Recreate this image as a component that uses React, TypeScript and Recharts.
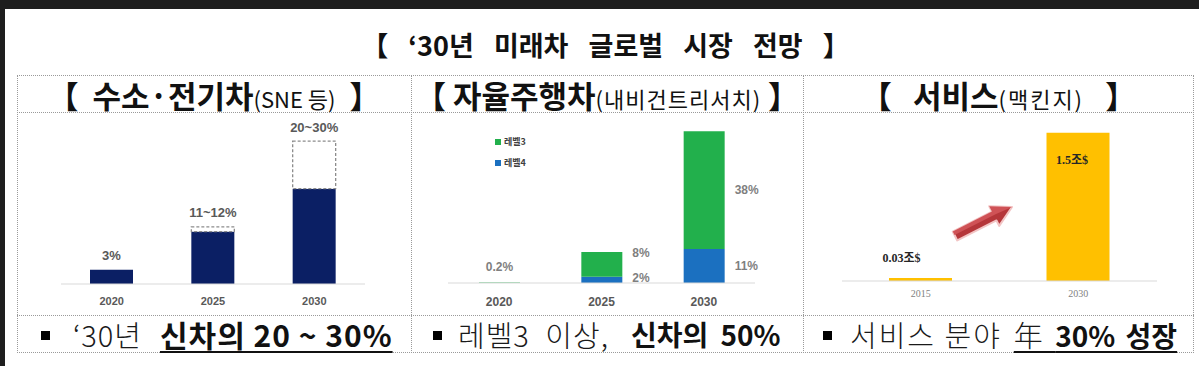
import React from 'react';
import { BarChart, Bar, XAxis, YAxis, LabelList, Legend } from 'recharts';

// ---- Panel 1: 수소·전기차 (share of new cars, %)
const evYears = ['2020', '2025', '2030'];
const evLow = [3, 11, 20];
const evHigh = [3, 12, 30];
const evLabels = ['3%', '11~12%', '20~30%'];

// ---- Panel 2: 자율주행차 (share of new cars, %)
const avYears = ['2020', '2025', '2030'];
const avLevel3 = [0.2, 8, 38];
const avLevel4 = [0, 2, 11];
const avLevel3Labels = ['0.2%', '8%', '38%'];
const avLevel4Labels = ['', '2%', '11%'];
const avSeriesNames = ['레벨3', '레벨4'];

// ---- Panel 3: 서비스 (조$)
const svcYears = ['2015', '2030'];
const svcValues = [0.03, 1.5];
const svcLabels = ['0.03조$', '1.5조$'];

const evData = evYears.map((y, i) => ({ year: y, base: evLow[i], extra: evHigh[i] - evLow[i], label: evLabels[i] }));
const avData = avYears.map((y, i) => ({ year: y, l3: avLevel3[i], l4: avLevel4[i], l3label: avLevel3Labels[i], l4label: avLevel4Labels[i] }));
const svcData = svcYears.map((y, i) => ({ year: y, value: svcValues[i], label: svcLabels[i] }));

const KR = "'Noto Sans CJK KR', 'Noto Sans', sans-serif";
const SANS = "'Liberation Sans', 'Noto Sans CJK KR', sans-serif";
const SERIF = "'Liberation Serif', 'DejaVu Serif', 'Noto Sans CJK KR', serif";

const NAVY = '#0b1f64';
const GREEN = '#22b04c';
const BLUE = '#1b70c0';
const YELLOW = '#ffc000';

const box = (p: any) => {
  const vb = p.viewBox || {};
  return {
    x: p.x ?? vb.x ?? 0,
    y: p.y ?? vb.y ?? 0,
    w: p.width ?? vb.width ?? 0,
    h: p.height ?? vb.height ?? 0,
  };
};

const makeTick = (dist: number, size: number, family: string, weight: any, color: string) => (props: any) => {
  const { x, y, payload } = props;
  return (
    <text x={x} y={y + dist} textAnchor="middle" dominantBaseline="central" fontSize={size} fontFamily={family} fontWeight={weight} fill={color}>
      {payload.value}
    </text>
  );
};

const DashedShape = (p: any) => {
  if (!p.height || p.height < 0.5) return null;
  return <rect x={p.x} y={p.y} width={p.width} height={p.height} fill="#ffffff" stroke="#8c8c8c" strokeWidth={1.3} strokeDasharray="3 2" />;
};

const evLabel = (p: any) => {
  const { x, y, w } = box(p);
  return (
    <text x={x + w / 2} y={y - 14} textAnchor="middle" dominantBaseline="central" fontSize={13} fontWeight={700} fontFamily={SANS} fill="#595959">
      {p.value}
    </text>
  );
};

const avLabel = (labels: string[]) => (p: any) => {
  const { x, y, w, h } = box(p);
  if (!p.value) return null;
  const idx = labels.indexOf(p.value);
  if (idx === 0) {
    return (
      <text x={x + w / 2} y={y - 15} textAnchor="middle" dominantBaseline="central" fontSize={12} fontWeight={700} fontFamily={SANS} fill="#7f7f7f">
        {p.value}
      </text>
    );
  }
  const ty = h > 30 ? y + h / 2 : y + 1;
  return (
    <text x={x + w + 10} y={ty} textAnchor="start" dominantBaseline="central" fontSize={12} fontWeight={700} fontFamily={SANS} fill="#7f7f7f">
      {p.value}
    </text>
  );
};

const svcLabel = (p: any) => {
  const { x, y, w, h } = box(p);
  const inside = h > 40;
  return (
    <text x={x + w / 2 + (inside ? -6 : -19)} y={inside ? y + 27 : y - 20} textAnchor="middle" dominantBaseline="central" fontSize={12} fontWeight={700} fontFamily={SERIF} fill="#262626">
      {p.value}
    </text>
  );
};

const avLegend = (props: any) => {
  const payload = [...(props.payload || [])].sort((a: any, b: any) => String(a.value).localeCompare(String(b.value)));
  return (
    <div>
      {payload.map((item: any) => (
        <div key={item.value} style={{ display: 'flex', alignItems: 'center', height: 21 }}>
          <span style={{ display: 'inline-block', width: 6, height: 6, background: item.color, marginRight: 3 }} />
          <span style={{ fontFamily: KR, fontSize: 9, fontWeight: 700, color: '#404040' }}>{item.value}</span>
        </div>
      ))}
    </div>
  );
};

const dotted = '1px dotted #9a9a9a';
const titleMain = { fontSize: 31, fontWeight: 700 };
const titleSub = { fontSize: 22, fontWeight: 400 };
const normalText = { fontWeight: 300, fontSize: 29, letterSpacing: 1, lineHeight: '38px', whiteSpace: 'pre', color: '#1a1a1a' } as any;
const boldText = { fontWeight: 700, fontSize: 28, lineHeight: '38px', whiteSpace: 'pre' } as any;
const ul = { textDecoration: 'underline', textDecorationThickness: 2, textUnderlineOffset: 4, whiteSpace: 'pre' } as any;
const row = { position: 'absolute', top: 315, height: 38, display: 'flex', alignItems: 'center', whiteSpace: 'nowrap' } as any;
const bullet = { width: 9, height: 9, background: '#000', marginTop: 3, flex: 'none' } as any;

export default function App() {
  return (
    <div style={{ position: 'absolute', left: 0, top: 0, width: 1199, height: 366, background: '#ffffff', overflow: 'hidden', fontFamily: KR, color: '#111' }}>
      <div style={{ position: 'absolute', left: 0, top: 0, width: 1199, height: 9, background: '#1e1e1e' }} />
      <div style={{ position: 'absolute', left: 0, top: 0, width: 5, height: 366, background: '#1e1e1e' }} />

      {/* main title */}
      <div style={{ position: 'absolute', left: 6, top: 25, width: 1199, height: 40, lineHeight: '40px', textAlign: 'center', fontSize: 27, fontWeight: 700, wordSpacing: 14, whiteSpace: 'nowrap' }}>
        【 ‘30년 미래차 글로벌 시장 전망 】
      </div>

      {/* frame */}
      <div style={{ position: 'absolute', left: 17, top: 75, width: 1177, height: 278, border: dotted, boxSizing: 'border-box' }} />
      <div style={{ position: 'absolute', left: 17, top: 112, width: 1177, height: 0, borderTop: dotted }} />
      <div style={{ position: 'absolute', left: 17, top: 315, width: 1177, height: 0, borderTop: dotted }} />
      <div style={{ position: 'absolute', left: 411, top: 75, width: 0, height: 278, borderLeft: dotted }} />
      <div style={{ position: 'absolute', left: 803, top: 75, width: 0, height: 278, borderLeft: dotted }} />

      {/* panel titles */}
      <div style={{ position: 'absolute', left: 17, top: 76, width: 394, height: 38, lineHeight: '38px', textAlign: 'center', whiteSpace: 'nowrap' }}>
        <span style={titleMain}>【&nbsp;&nbsp;수소·전기차</span>
        <span style={titleSub}>(SNE 등)</span>
        <span style={titleMain}>&nbsp;&nbsp;】</span>
      </div>
      <div style={{ position: 'absolute', left: 411, top: 76, width: 392, height: 38, lineHeight: '38px', textAlign: 'center', whiteSpace: 'nowrap' }}>
        <span style={titleMain}>【 자율주행차</span>
        <span style={{ ...titleSub, letterSpacing: 1 }}>(내비건트리서치)</span>
        <span style={titleMain}> 】</span>
      </div>
      <div style={{ position: 'absolute', left: 803, top: 76, width: 391, height: 38, lineHeight: '38px', textAlign: 'center', whiteSpace: 'nowrap' }}>
        <span style={titleMain}>【&nbsp;&nbsp;&nbsp;서비스</span>
        <span style={{ ...titleSub, letterSpacing: 2 }}>(맥킨지)</span>
        <span style={titleMain}>&nbsp;&nbsp;&nbsp;】</span>
      </div>

      {/* chart 1 */}
      <div style={{ position: 'absolute', left: 17, top: 112 }}>
        <BarChart width={394} height={203} data={evData} margin={{ top: 10, right: 46, left: 44, bottom: 0 }}>
          <XAxis dataKey="year" height={31} axisLine={{ stroke: '#d9d9d9' }} tickLine={false} tickSize={0} tickMargin={0} interval={0} tick={makeTick(17, 11, SANS, 700, '#595959')} />
          <YAxis hide domain={[0, 34]} />
          <Bar dataKey="base" stackId="a" fill={NAVY} barSize={43} isAnimationActive={false} />
          <Bar dataKey="extra" stackId="a" barSize={43} shape={DashedShape} isAnimationActive={false}>
            <LabelList dataKey="label" content={evLabel} />
          </Bar>
        </BarChart>
      </div>

      {/* chart 2 */}
      <div style={{ position: 'absolute', left: 411, top: 112 }}>
        <BarChart width={392} height={203} data={avData} margin={{ top: 10, right: 48, left: 37, bottom: 0 }}>
          <XAxis dataKey="year" height={32} axisLine={{ stroke: '#d9d9d9' }} tickLine={false} tickSize={0} tickMargin={0} interval={0} tick={makeTick(19, 12, SANS, 700, '#595959')} />
          <YAxis hide domain={[0, 52]} />
          <Legend layout="vertical" align="center" verticalAlign="middle" content={avLegend} wrapperStyle={{ left: 84, top: 19, width: 80, height: 42 }} />
          <Bar dataKey="l4" name={avSeriesNames[1]} stackId="a" fill={BLUE} barSize={41} isAnimationActive={false}>
            <LabelList dataKey="l4label" content={avLabel(avLevel4Labels)} />
          </Bar>
          <Bar dataKey="l3" name={avSeriesNames[0]} stackId="a" fill={GREEN} barSize={41} isAnimationActive={false}>
            <LabelList dataKey="l3label" content={avLabel(avLevel3Labels)} />
          </Bar>
        </BarChart>
      </div>

      {/* chart 3 */}
      <div style={{ position: 'absolute', left: 803, top: 112 }}>
        <BarChart width={391} height={203} data={svcData} margin={{ top: 10, right: 37, left: 39, bottom: 0 }}>
          <XAxis dataKey="year" height={34} axisLine={{ stroke: '#d9d9d9' }} tickLine={false} tickSize={0} tickMargin={0} interval={0} tick={makeTick(12, 10, SERIF, 400, '#7f7f7f')} />
          <YAxis hide domain={[0, 1.61]} />
          <Bar dataKey="value" fill={YELLOW} barSize={63} isAnimationActive={false}>
            <LabelList dataKey="label" content={svcLabel} />
          </Bar>
        </BarChart>
      </div>

      {/* arrow decoration */}
      <svg style={{ position: 'absolute', left: 803, top: 112 }} width={391} height={203}>
        <g transform="translate(152,124) rotate(-27)">
          <polygon points="0,-5 44,-5 44,-11 64,0 44,11 44,5 0,5" fill="#b5363a" stroke="#f2c4c4" strokeWidth={2} strokeLinejoin="round" />
          <polygon points="0,-5 44,-5 44,-11 64,0 46,-1 0,-1" fill="#cf5256" />
        </g>
      </svg>

      {/* bottom statements */}
      <div style={{ ...row, left: 41 }}>
        <div style={bullet} />
        <span style={{ ...normalText, marginLeft: 23 }}>‘30년</span>
        <span style={{ ...boldText, ...ul, fontSize: 30, letterSpacing: 1, marginLeft: 18 }}>신차의 20 ~ 30%</span>
      </div>
      <div style={{ ...row, left: 433 }}>
        <div style={bullet} />
        <span style={{ ...normalText, marginLeft: 16, wordSpacing: 8 }}>레벨3 이상,</span>
        <span style={{ ...boldText, marginLeft: 22, wordSpacing: 6 }}>신차의 50%</span>
      </div>
      <div style={{ ...row, left: 823 }}>
        <div style={bullet} />
        <span style={{ ...normalText, marginLeft: 18, letterSpacing: 2 }}>서비스 분야</span>
        <span style={{ ...ul, marginLeft: 12, wordSpacing: 4 }}>
          <span style={normalText}>{'年 '}</span>
          <span style={boldText}>30% 성장</span>
        </span>
      </div>
    </div>
  );
}
